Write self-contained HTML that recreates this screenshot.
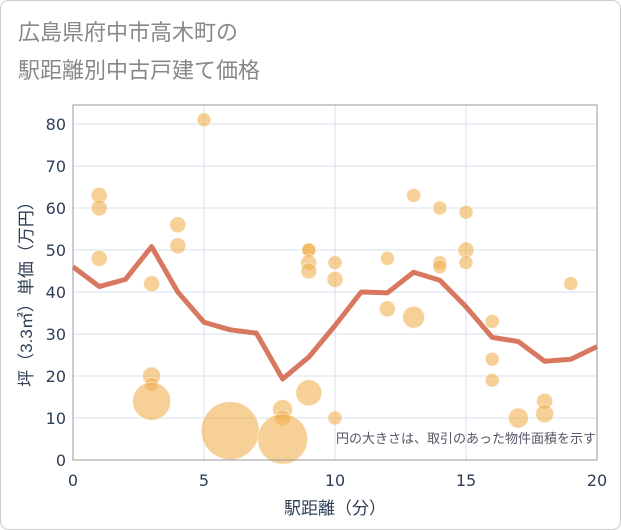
<!DOCTYPE html>
<html><head><meta charset="utf-8"><style>
body{margin:0;background:#fff}
svg{display:block;font-family:"Liberation Sans","Noto Sans CJK JP",sans-serif}
</style></head><body>
<svg width="621" height="530">
<rect x="0.5" y="0.5" width="620" height="529" rx="8" fill="#fff" stroke="#ccc"/>
<text x="18" y="40" font-size="22" fill="#888">広島県府中市高木町の</text>
<text x="18" y="78" font-size="22" fill="#888">駅距離別中古戸建て価格</text>
<g id="grid"></g>
<g id="pts"></g>
<path id="avg" fill="none" stroke="#d5694f" stroke-width="5" stroke-linejoin="round" opacity="0.9"/>
<rect x="73" y="105" width="524" height="355" fill="none" stroke="#999"/>
<g id="ticks"></g>
<text x="596" y="443" font-size="13" fill="#556" text-anchor="end">円の大きさは、取引のあった物件面積を示す</text>
<text x="335" y="514" font-size="17" fill="#2e3f55" text-anchor="middle">駅距離（分）</text>
<text transform="translate(32,290) rotate(-90)" font-size="17" fill="#2e3f55" text-anchor="middle">坪（3.3㎡）単価（万円）</text>
</svg>
<script>
const lineX=[0,1,2,3,4,5,6,7,8,9,10,11,12,13,14,15,16,17,18,19,20];
const lineY=[46,41.3,43,50.8,40,32.8,31,30.2,19.3,24.5,32,40,39.8,44.7,42.8,36.5,29.2,28.2,23.5,24,27];
const ptX=[1,1,1,3,3,3,3,4,4,5,6,8,8,8,9,9,9,9,9,10,10,10,12,12,13,13,14,14,14,15,15,15,16,16,16,17,18,18,19];
const ptY=[63,60,48,42,20,18,14,56,51,81,7,12,10,5,50,50,47,45,16,47,43,10,48,36,63,34,60,47,46,59,50,47,33,24,19,10,14,11,42];
const ptSize=[8,8,8,8,9,7,19,8,8,7,29,10,8,25,7,7,8,8,13,7,8,7,7,8,7,11,7,7,7,7,8,7,7,7,7,10,8,9,7];
const xTicks=[0,5,10,15,20];
const yTicks=[0,10,20,30,40,50,60,70,80];
const sx=v=>73+v*26.2, sy=v=>460-v*4.2;
const NS="http://www.w3.org/2000/svg";
const g=document.getElementById('grid'),t=document.getElementById('ticks'),p=document.getElementById('pts');
yTicks.forEach(v=>{
 const l=document.createElementNS(NS,'line');
 
 
 l.setAttribute('x1',73);l.setAttribute('x2',597);l.setAttribute('y1',sy(v));l.setAttribute('y2',sy(v));
 l.setAttribute('stroke','#d4e0ec');g.appendChild(l);
 const tx=document.createElementNS(NS,'text');
 
 
 tx.setAttribute('x',66);tx.setAttribute('y',sy(v)+6);tx.setAttribute('text-anchor','end');
 tx.setAttribute('font-family','DejaVu Sans, sans-serif');
 tx.setAttribute('font-size','16');tx.setAttribute('fill','#2e3f55');tx.textContent=v;t.appendChild(tx);
});
xTicks.forEach(v=>{
 const l=document.createElementNS(NS,'line');
 
 
 l.setAttribute('x1',sx(v));l.setAttribute('x2',sx(v));l.setAttribute('y1',105);l.setAttribute('y2',460);
 l.setAttribute('stroke','#d4e0ec');g.appendChild(l);
 const tx=document.createElementNS(NS,'text');
 
 
 tx.setAttribute('x',sx(v));tx.setAttribute('y',486);tx.setAttribute('text-anchor','middle');
 tx.setAttribute('font-family','DejaVu Sans, sans-serif');
 tx.setAttribute('font-size','16');tx.setAttribute('fill','#2e3f55');tx.textContent=v;t.appendChild(tx);
});
ptX.forEach((x,i)=>{
 const c=document.createElementNS(NS,'circle');
 
 
 c.setAttribute('cx',sx(x));c.setAttribute('cy',sy(ptY[i]));c.setAttribute('r',ptSize[i]);
 c.setAttribute('fill','#f0b050');c.setAttribute('fill-opacity','0.6');c.setAttribute('stroke','#fff');c.setAttribute('stroke-opacity','0.5');
 p.appendChild(c);
});
document.getElementById('avg').setAttribute('d',lineX.map((x,i)=>(i?'L':'M')+sx(x)+','+sy(lineY[i])).join(''));
</script>
</body></html>
